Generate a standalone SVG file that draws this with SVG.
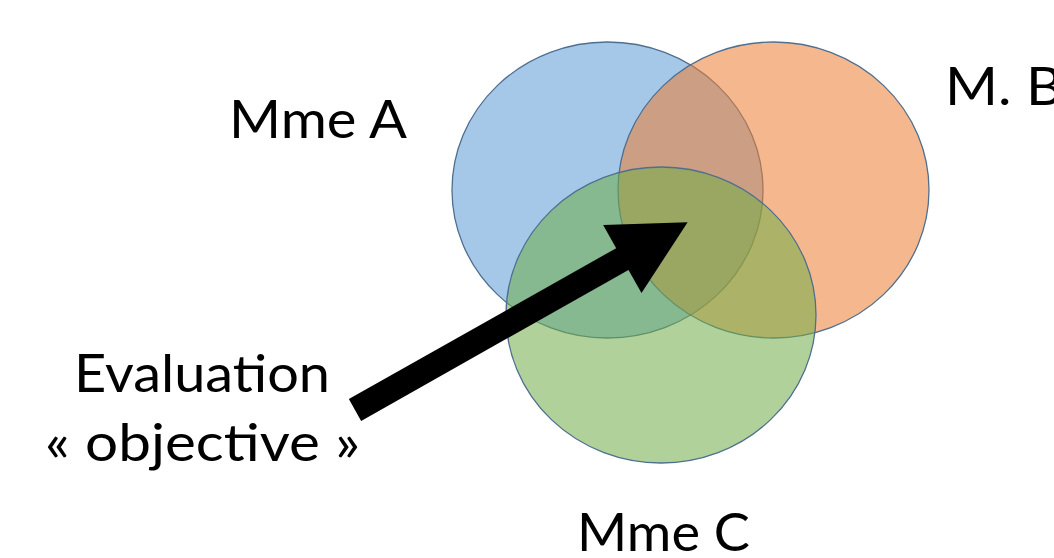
<svg xmlns="http://www.w3.org/2000/svg" width="1054" height="558" viewBox="0 0 1054 558">
<style>
.c{stroke:#4f6f8f;stroke-width:1.3;fill-opacity:0.55}
.t{font-family:Lato,"Liberation Sans",sans-serif;font-size:53px;fill:#000}
</style>
<rect width="1054" height="558" fill="#fff"/>
<g id="circleA"><ellipse class="c" cx="607.5" cy="190" rx="155.5" ry="148" fill="#5B9BD5"/></g>
<g id="circleB"><ellipse class="c" cx="773.5" cy="190" rx="155.5" ry="148" fill="#ED7D31"/></g>
<g id="circleC"><ellipse class="c" cx="661" cy="315" rx="155" ry="148" fill="#70AD47"/></g>
<g id="labelA"><text class="t" x="229" y="138" textLength="178" lengthAdjust="spacingAndGlyphs">Mme A</text></g>
<g id="labelB"><text class="t" x="945" y="105" textLength="118" lengthAdjust="spacingAndGlyphs">M. B</text></g>
<g id="labelC"><text class="t" x="577" y="551" textLength="173" lengthAdjust="spacingAndGlyphs">Mme C</text></g>
<g id="labelEval">
<text class="t" x="74" y="392" textLength="256" lengthAdjust="spacingAndGlyphs">Evaluation</text>
<text class="t" x="45" y="461" textLength="315" lengthAdjust="spacingAndGlyphs">« objective »</text>
</g>
<g id="connectors">
<polygon transform="translate(355,410) rotate(-29.45)" points="0,-12.5 307,-12.5 307,-39 382,0 307,39 307,12.5 0,12.5" fill="#000"/>
</g>
</svg>
